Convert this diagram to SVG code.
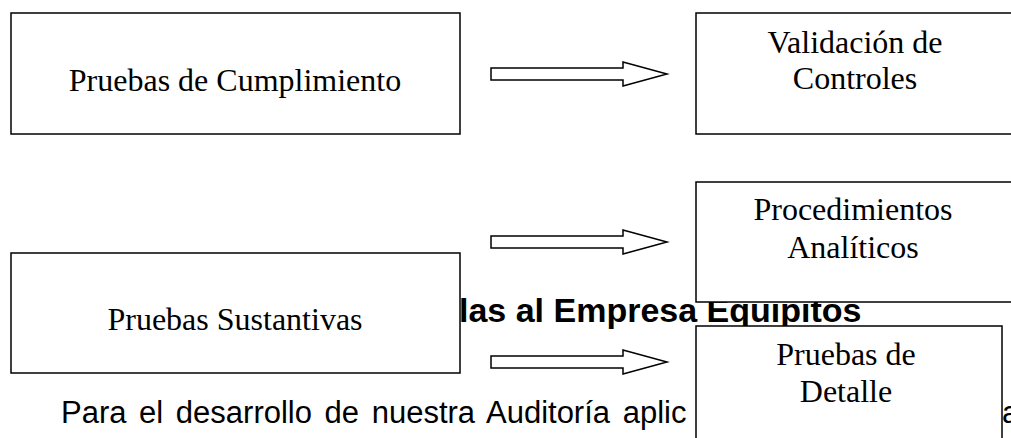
<svg xmlns="http://www.w3.org/2000/svg" width="1011" height="438" viewBox="0 0 1011 438">
<style>
.box{fill:#fff;stroke:#000;stroke-width:1.5}
.lbl{font-family:"Liberation Serif","Times New Roman",serif;font-size:32px;fill:#000;text-anchor:middle}
.arrow{fill:#fff;stroke:#000;stroke-width:1.5;stroke-linejoin:miter}
.head{font-family:"Liberation Sans",Arial,sans-serif;font-size:34px;font-weight:bold;fill:#000}
.para{font-family:"Liberation Sans",Arial,sans-serif;font-size:31px;fill:#000;word-spacing:4px}
</style>
<rect width="1011" height="438" fill="#fff"/>
<g id="background-text">
<text class="head" x="459" y="322">las al Empresa Equipitos</text>
<text class="para" x="61" y="423">Para el desarrollo de nuestra Auditoría aplic</text>
<text class="para" x="1002" y="423">a</text>
</g>
<g id="node-cumplimiento">
<rect class="box" x="11" y="13" width="449" height="121"/>
<text class="lbl" x="235" y="91">Pruebas de Cumplimiento</text>
</g>
<g id="node-validacion">
<rect class="box" x="696" y="13" width="330" height="121"/>
<text class="lbl" x="855" y="53">Validación de</text>
<text class="lbl" x="855" y="89">Controles</text>
</g>
<g id="node-procedimientos">
<rect class="box" x="696" y="182" width="330" height="120"/>
<text class="lbl" x="853" y="220">Procedimientos</text>
<text class="lbl" x="853" y="258">Analíticos</text>
</g>
<g id="node-sustantivas">
<rect class="box" x="11" y="253" width="449" height="120"/>
<text class="lbl" x="235" y="330">Pruebas Sustantivas</text>
</g>
<g id="node-detalle">
<rect class="box" x="696" y="326" width="306" height="130"/>
<text class="lbl" x="846" y="365">Pruebas de</text>
<text class="lbl" x="846" y="402">Detalle</text>
</g>
<g id="connectors">
<polygon class="arrow" points="491,68 623,68 623,62 667,74 623,86 623,80 491,80"/>
<polygon class="arrow" points="491,236 623,236 623,230 667,242 623,254 623,248 491,248"/>
<polygon class="arrow" points="491,356 623,356 623,350 667,362 623,374 623,368 491,368"/>
</g>
</svg>
